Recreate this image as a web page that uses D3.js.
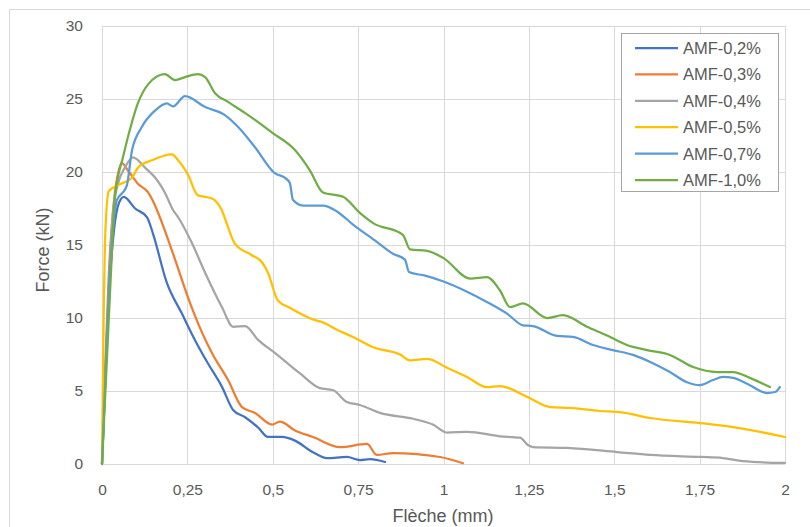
<!DOCTYPE html>
<html>
<head>
<meta charset="utf-8">
<script src="https://cdn.jsdelivr.net/npm/d3@7"></script>
<style>
  html, body { margin: 0; padding: 0; background: #fff; }
  svg { display: block; font-family: "Liberation Sans", Arial, sans-serif; }
</style>
</head>
<body>
<div id="chart"></div>
<script>
// ---------- DATA ----------
const seriesNames = ["AMF-0,2%", "AMF-0,3%", "AMF-0,4%", "AMF-0,5%", "AMF-0,7%", "AMF-1,0%"];
const seriesColors = ["#4472C4", "#ED7D31", "#A5A5A5", "#FFC000", "#5B9BD5", "#70AD47"];

const xTicks = [0, 0.25, 0.5, 0.75, 1, 1.25, 1.5, 1.75, 2];
const yTicks = [0, 5, 10, 15, 20, 25, 30];

// [flèche (mm), force (kN)]
const amf02 = [[0,0],[0.01,6],[0.02,11.5],[0.035,16],[0.05,17.9],[0.064,18.3],[0.097,17.5],[0.132,16.9],[0.149,15.8],[0.19,12.4],[0.234,10.3],[0.272,8.5],[0.31,6.9],[0.351,5.3],[0.384,3.7],[0.419,3.2],[0.457,2.5],[0.486,1.85],[0.527,1.85],[0.565,1.6],[0.618,0.8],[0.659,0.4],[0.717,0.48],[0.755,0.27],[0.785,0.34],[0.829,0.14]];
const amf03 = [[0,0],[0.01,7],[0.02,13],[0.035,18],[0.048,20],[0.058,20.6],[0.076,20.1],[0.105,19.2],[0.135,18.6],[0.161,17.4],[0.176,16.5],[0.214,14.0],[0.252,11.4],[0.293,9.0],[0.322,7.6],[0.369,5.75],[0.41,3.9],[0.448,3.5],[0.498,2.7],[0.521,2.9],[0.565,2.3],[0.618,1.85],[0.697,1.16],[0.776,1.37],[0.805,0.62],[0.852,0.75],[0.99,0.48],[1.057,0.05]];
const amf04 = [[0,0],[0.01,6],[0.02,12],[0.032,17.2],[0.047,19.2],[0.067,20.3],[0.091,21.0],[0.126,20.3],[0.161,19.45],[0.184,18.6],[0.208,17.4],[0.223,16.9],[0.264,15.1],[0.302,13.1],[0.351,10.75],[0.384,9.4],[0.419,9.45],[0.457,8.5],[0.507,7.6],[0.58,6.2],[0.638,5.2],[0.676,5.07],[0.717,4.25],[0.755,4.04],[0.814,3.5],[0.911,3.1],[0.969,2.7],[1.01,2.15],[1.069,2.2],[1.165,1.9],[1.224,1.8],[1.247,1.3],[1.262,1.16],[1.362,1.1],[1.508,0.82],[1.605,0.62],[1.751,0.48],[1.818,0.41],[1.877,0.2],[2.0,0.07]];
const amf05 = [[0,0],[0.004,8.5],[0.01,16],[0.02,18.7],[0.047,19.1],[0.088,19.6],[0.105,20.3],[0.146,20.8],[0.205,21.2],[0.223,20.8],[0.252,19.8],[0.281,18.4],[0.302,18.3],[0.325,18.15],[0.346,17.6],[0.389,15.1],[0.439,14.3],[0.469,13.8],[0.486,13.1],[0.515,11.2],[0.55,10.7],[0.618,9.9],[0.647,9.7],[0.688,9.2],[0.735,8.7],[0.794,8.0],[0.873,7.5],[0.902,7.1],[0.952,7.2],[1.01,6.6],[1.069,5.96],[1.127,5.27],[1.165,5.34],[1.245,4.6],[1.312,3.9],[1.37,3.84],[1.458,3.63],[1.517,3.56],[1.605,3.15],[1.751,2.8],[1.848,2.53],[2.0,1.85]];
const amf07 = [[0,0],[0.01,6],[0.02,12],[0.03,15.5],[0.044,18.1],[0.061,18.6],[0.073,19.1],[0.088,21.5],[0.117,23.1],[0.155,24.2],[0.19,24.7],[0.208,24.5],[0.243,25.2],[0.302,24.45],[0.36,23.9],[0.398,23.1],[0.448,21.7],[0.507,19.9],[0.536,19.6],[0.55,19.25],[0.559,18.1],[0.589,17.7],[0.647,17.7],[0.688,17.3],[0.735,16.4],[0.8,15.3],[0.852,14.4],[0.887,14.0],[0.899,13.15],[0.946,12.9],[1.0,12.5],[1.069,11.8],[1.127,11.1],[1.186,10.3],[1.233,9.5],[1.262,9.45],[1.332,8.77],[1.379,8.7],[1.438,8.15],[1.496,7.8],[1.555,7.47],[1.613,6.9],[1.663,6.3],[1.713,5.6],[1.751,5.4],[1.789,5.75],[1.818,5.96],[1.848,5.9],[1.897,5.4],[1.947,4.86],[1.971,4.93],[1.985,5.27]];
const amf10 = [[0,0],[0.01,5],[0.02,10],[0.029,14.5],[0.036,17.8],[0.048,19.8],[0.059,20.8],[0.076,22.4],[0.105,24.7],[0.135,26.0],[0.184,26.7],[0.214,26.3],[0.243,26.5],[0.281,26.7],[0.302,26.5],[0.331,25.4],[0.369,24.8],[0.428,23.9],[0.498,22.7],[0.565,21.5],[0.609,20.1],[0.647,18.6],[0.706,18.3],[0.755,17.2],[0.794,16.5],[0.881,15.7],[0.902,14.7],[0.952,14.6],[1.0,14.1],[1.078,12.7],[1.127,12.8],[1.165,11.9],[1.195,10.75],[1.233,11.0],[1.303,10.0],[1.35,10.2],[1.42,9.4],[1.479,8.8],[1.537,8.15],[1.596,7.8],[1.663,7.47],[1.731,6.64],[1.801,6.3],[1.848,6.3],[1.897,5.9],[1.956,5.27]];

const seriesData = [amf02, amf03, amf04, amf05, amf07, amf10];

const xTitle = "Flèche (mm)";
const yTitle = "Force (kN)";

// ---------- LAYOUT ----------
const W = 810, H = 527;
const plot = { left: 102, right: 785, top: 26, bottom: 464 };

const svg = d3.select("#chart").append("svg").attr("width", W).attr("height", H);

// chart border
svg.append("rect").attr("x", 9.5).attr("y", 9.5).attr("width", W + 10).attr("height", H + 10)
  .attr("fill", "#fff").attr("stroke", "#d9d9d9").attr("stroke-width", 1);

const x = d3.scaleLinear().domain([0, 2]).range([plot.left, plot.right]);
const y = d3.scaleLinear().domain([0, 30]).range([plot.bottom, plot.top]);

const fmt = d => String(d).replace(".", ",");

// gridlines
const grid = svg.append("g");
grid.selectAll("line.v").data(xTicks).join("line")
  .attr("x1", d => Math.round(x(d)) + 0.5).attr("x2", d => Math.round(x(d)) + 0.5)
  .attr("y1", plot.top).attr("y2", plot.bottom)
  .attr("stroke", "#d9d9d9").attr("stroke-width", 1);
grid.selectAll("line.h").data(yTicks).join("line")
  .attr("y1", d => Math.round(y(d)) + 0.5).attr("y2", d => Math.round(y(d)) + 0.5)
  .attr("x1", plot.left).attr("x2", plot.right)
  .attr("stroke", "#d9d9d9").attr("stroke-width", 1);

// axes (labels only)
const xAxis = d3.axisBottom(x).tickValues(xTicks).tickFormat(fmt).tickSize(0).tickPadding(0);
const gx = svg.append("g").attr("transform", `translate(0,${plot.bottom})`).call(xAxis);
gx.select(".domain").remove();
gx.selectAll("text").attr("dy", null).attr("y", 31).attr("fill", "#595959")
  .style("font-size", "15.5px").style("font-family", "'Liberation Sans', Arial, sans-serif");

const yAxis = d3.axisLeft(y).tickValues(yTicks).tickFormat(fmt).tickSize(0).tickPadding(19);
const gy = svg.append("g").attr("transform", `translate(${plot.left},0)`).call(yAxis);
gy.select(".domain").remove();
gy.selectAll("text").attr("fill", "#595959")
  .style("font-size", "15.5px").style("font-family", "'Liberation Sans', Arial, sans-serif");

// axis titles
svg.append("text").attr("x", 443).attr("y", 522).attr("text-anchor", "middle")
  .attr("fill", "#595959").style("font-size", "18px").text(xTitle);
svg.append("text").attr("transform", "translate(49,250) rotate(-90)").attr("text-anchor", "middle")
  .attr("fill", "#595959").style("font-size", "18px").text(yTitle);

// lines
const line = d3.line().x(d => x(d[0])).y(d => y(d[1])).curve(d3.curveMonotoneX);
svg.append("g").selectAll("path").data(seriesData).join("path")
  .attr("d", line).attr("fill", "none")
  .attr("stroke", (d, i) => seriesColors[i]).attr("stroke-width", 2.25)
  .attr("stroke-linejoin", "round").attr("stroke-linecap", "round");

// legend
const lg = svg.append("g");
lg.append("rect").attr("x", 621.5).attr("y", 33.5).attr("width", 157).attr("height", 158)
  .attr("fill", "#fff").attr("stroke", "#a6a6a6").attr("stroke-width", 1);
const rowY = d3.scaleLinear().domain([0, 5]).range([48, 180]);
const items = lg.selectAll("g.item").data(seriesNames).join("g")
  .attr("transform", (d, i) => `translate(0,${rowY(i)})`);
items.append("line").attr("x1", 635).attr("x2", 678).attr("y1", 0).attr("y2", 0)
  .attr("stroke", (d, i) => seriesColors[i]).attr("stroke-width", 2.25);
items.append("text").attr("x", 683).attr("y", 6).attr("fill", "#595959")
  .style("font-size", "16.5px").text(d => d);
</script>
</body>
</html>
